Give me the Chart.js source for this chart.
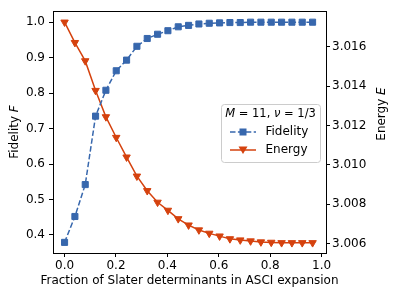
<!DOCTYPE html>
<html>
<head>
<meta charset="utf-8">
<script src="https://cdn.jsdelivr.net/npm/chart.js@4"></script>
<style>
  html, body { margin: 0; padding: 0; background: #fff; }
  #wrap { width: 394px; height: 296px; }
</style>
</head>
<body>
<div id="wrap"><canvas id="grafico" width="394" height="296"></canvas></div>
<script>
// datos
const fracciones = [0, 0.0402, 0.0804, 0.1206, 0.1608, 0.201, 0.2412, 0.2814, 0.3216, 0.3618,
    0.402, 0.4422, 0.4824, 0.5226, 0.5628, 0.603, 0.6432, 0.6834, 0.7236, 0.7638,
    0.804, 0.8442, 0.8844, 0.9246, 0.9648];
const fidelidad = [0.379, 0.452, 0.542, 0.735, 0.808, 0.863, 0.893, 0.932, 0.954, 0.966,
    0.976, 0.987, 0.991, 0.995, 0.997, 0.998, 0.999, 0.999, 1.0, 1.0,
    1.0, 1.0, 1.0, 1.0, 1.0];
const energia = [3.01726, 3.01622, 3.01529, 3.01378, 3.01244, 3.01139, 3.01039, 3.00942, 3.00868, 3.00809,
    3.00768, 3.00725, 3.00693, 3.00668, 3.00651, 3.00637, 3.00623, 3.00617, 3.00612, 3.00607,
    3.00605, 3.00603, 3.00603, 3.00603, 3.00603];
const ticksX = [0.0, 0.2, 0.4, 0.6, 0.8, 1.0];
const ticksF = [0.4, 0.5, 0.6, 0.7, 0.8, 0.9, 1.0];
const ticksE = [3.006, 3.008, 3.010, 3.012, 3.014, 3.016];

const AZUL = '#3767ad';
const ROJO = '#d5420e';
const FUENTE = '"DejaVu Sans", sans-serif';
const TAM = 12;

function fijarTicks(lista) {
    return function (scale) { scale.ticks = lista.map(v => ({ value: v })); };
}

// dibuja texto con partes en cursiva, centrado en x
function textoMixto(ctx, partes, x, y, size) {
    let ancho = 0;
    partes.forEach(p => {
        ctx.font = (p.i ? 'italic ' : '') + size + 'px ' + FUENTE;
        ancho += ctx.measureText(p.t).width;
    });
    let cx = x - ancho / 2;
    ctx.textAlign = 'left';
    partes.forEach(p => {
        ctx.font = (p.i ? 'italic ' : '') + size + 'px ' + FUENTE;
        ctx.fillText(p.t, cx, y);
        cx += ctx.measureText(p.t).width;
    });
    return ancho;
}

const extras = {
    id: 'extras',
    afterDraw(chart) {
        const ctx = chart.ctx;
        const a = chart.chartArea;
        ctx.save();
        // marco
        ctx.strokeStyle = '#000';
        ctx.lineWidth = 1;
        ctx.strokeRect(Math.round(a.left) + 0.5, Math.round(a.top) + 0.5,
            Math.round(a.right - a.left), Math.round(a.bottom - a.top));

        ctx.fillStyle = '#000';
        ctx.textBaseline = 'middle';
        // titulo eje x
        textoMixto(ctx, [{ t: 'Fraction of Slater determinants in ASCI expansion' }], 189.5, 281, TAM);
        // titulo eje izquierdo
        ctx.save();
        ctx.translate(15, 132);
        ctx.rotate(-Math.PI / 2);
        textoMixto(ctx, [{ t: 'Fidelity ' }, { t: 'F', i: true }], 0, 0, TAM);
        ctx.restore();
        // titulo eje derecho
        ctx.save();
        ctx.translate(382, 114);
        ctx.rotate(-Math.PI / 2);
        textoMixto(ctx, [{ t: 'Energy ' }, { t: 'E', i: true }], 0, 0, TAM);
        ctx.restore();

        // leyenda
        const lx = 221, ly = 104, lw = 99, lh = 58;
        ctx.beginPath();
        ctx.roundRect(lx + 0.5, ly + 0.5, lw, lh, 3);
        ctx.fillStyle = 'rgba(255,255,255,0.85)';
        ctx.fill();
        ctx.strokeStyle = '#cccccc';
        ctx.stroke();
        ctx.fillStyle = '#000';
        textoMixto(ctx, [{ t: 'M', i: true }, { t: ' = 11, ' }, { t: 'ν', i: true }, { t: ' = 1/3' }], 270.5, 114, 11.5);

        // entrada Fidelity
        ctx.strokeStyle = AZUL;
        ctx.lineWidth = 1.5;
        ctx.setLineDash([5.5, 2.4]);
        ctx.beginPath();
        ctx.moveTo(230, 132);
        ctx.lineTo(256, 132);
        ctx.stroke();
        ctx.setLineDash([]);
        ctx.fillStyle = AZUL;
        ctx.fillRect(239.5, 128.5, 7, 7);
        ctx.fillStyle = '#000';
        ctx.textAlign = 'left';
        ctx.font = TAM + 'px ' + FUENTE;
        ctx.fillText('Fidelity', 265.5, 132);

        // entrada Energy
        ctx.strokeStyle = ROJO;
        ctx.beginPath();
        ctx.moveTo(230, 150);
        ctx.lineTo(256, 150);
        ctx.stroke();
        ctx.fillStyle = ROJO;
        ctx.beginPath();
        ctx.moveTo(238.5, 146.5);
        ctx.lineTo(247.5, 146.5);
        ctx.lineTo(243, 154);
        ctx.closePath();
        ctx.fill();
        ctx.fillStyle = '#000';
        ctx.fillText('Energy', 265.5, 150);
        ctx.restore();
    }
};

const ejeComun = {
    grid: { drawOnChartArea: false, drawTicks: true, tickLength: 4, color: '#000', tickWidth: 1 },
    border: { display: true, color: '#000', width: 1 },
    ticks: { color: '#000', font: { family: FUENTE, size: TAM }, padding: 2 }
};

new Chart(document.getElementById('grafico'), {
    type: 'line',
    data: {
        datasets: [
            {
                label: 'Fidelity',
                data: fracciones.map((x, i) => ({ x: x, y: fidelidad[i] })),
                yAxisID: 'yF',
                borderColor: AZUL,
                backgroundColor: AZUL,
                borderWidth: 1.5,
                borderDash: [5.5, 2.4],
                pointStyle: 'rect',
                pointRadius: 4.3,
                pointBorderWidth: 1,
                tension: 0
            },
            {
                label: 'Energy',
                data: fracciones.map((x, i) => ({ x: x, y: energia[i] })),
                yAxisID: 'yE',
                borderColor: ROJO,
                backgroundColor: ROJO,
                borderWidth: 1.5,
                pointStyle: 'triangle',
                rotation: 180,
                pointRadius: 4.3,
                pointBorderWidth: 1,
                tension: 0
            }
        ]
    },
    options: {
        responsive: false,
        animation: false,
        layout: { padding: { top: 11, left: 0, right: 0, bottom: 0 } },
        plugins: { legend: { display: false }, tooltip: { enabled: false } },
        scales: {
            x: {
                type: 'linear',
                min: -0.045,
                max: 1.017,
                afterBuildTicks: fijarTicks(ticksX),
                afterFit: s => { s.height = 43; },
                ...ejeComun,
                ticks: { ...ejeComun.ticks, padding: 2, maxRotation: 0, callback: v => v.toFixed(1) }
            },
            yF: {
                position: 'left',
                min: 0.349,
                max: 1.031,
                afterBuildTicks: fijarTicks(ticksF),
                afterFit: s => { s.width = 53; },
                ...ejeComun,
                ticks: { ...ejeComun.ticks, padding: 4, callback: v => v.toFixed(1) }
            },
            yE: {
                position: 'right',
                min: 3.00551,
                max: 3.01782,
                afterBuildTicks: fijarTicks(ticksE),
                afterFit: s => { s.width = 68; },
                ...ejeComun,
                ticks: { ...ejeComun.ticks, padding: 2, callback: v => v.toFixed(3) }
            }
        }
    },
    plugins: [extras]
});
</script>
</body>
</html>
